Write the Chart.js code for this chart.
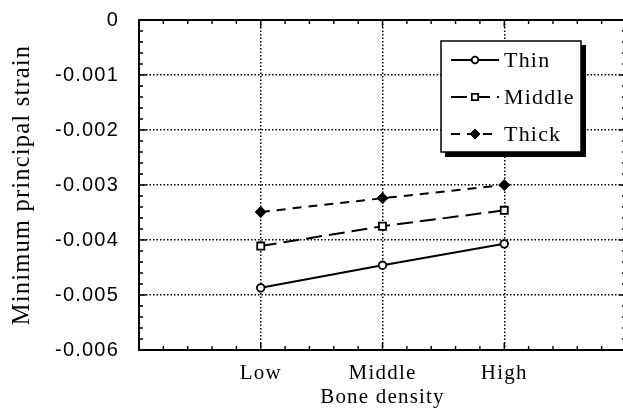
<!DOCTYPE html>
<html><head><meta charset="utf-8">
<script src="https://cdn.jsdelivr.net/npm/chart.js@4/dist/chart.umd.min.js"></script>
<style>
html,body{margin:0;padding:0;background:#fff;overflow:hidden;width:623px;height:410px}
#wrap{position:absolute;left:0;top:0;width:640px;height:410px}
</style>
</head><body><div id="wrap"><canvas id="c" width="640" height="410"></canvas></div>
<script>
// ---- data ----
const categories = ['Low', 'Middle', 'High'];
const seriesNames = ['Thin', 'Middle', 'Thick'];
const thinValues = [-0.00487, -0.00446, -0.00407];
const middleValues = [-0.00411, -0.00375, -0.00346];
const thickValues = [-0.00349, -0.00324, -0.00300];
const yTickLabels = ['0', '-0.001', '-0.002', '-0.003', '-0.004', '-0.005', '-0.006'];
const xAxisTitle = 'Bone density';
const yAxisTitle = 'Minimum principal strain';

const toPoints = vals => vals.map((v, i) => ({x: i + 1, y: v}));
const SERIF = 'Liberation Serif';
const SANS = 'Liberation Sans';

const datasets = [
  {label: seriesNames[0], data: toPoints(thinValues), borderColor: '#000', borderWidth: 2,
   pointStyle: 'circle', pointRadius: 3.8, pointBackgroundColor: '#fff', pointBorderColor: '#000', pointBorderWidth: 1.8, borderDash: []},
  {label: seriesNames[1], data: toPoints(middleValues), borderColor: '#000', borderWidth: 2,
   pointStyle: 'rect', pointRadius: 5, pointBackgroundColor: '#fff', pointBorderColor: '#000', pointBorderWidth: 1.8, borderDash: [16, 7]},
  {label: seriesNames[2], data: toPoints(thickValues), borderColor: '#000', borderWidth: 2,
   pointStyle: 'rectRot', pointRadius: 5.5, pointBackgroundColor: '#000', pointBorderColor: '#000', pointBorderWidth: 1, borderDash: [9, 7]}
];

const spacingPlugin = {
  id: 'spacing',
  beforeUpdate(chart) { chart.ctx.letterSpacing = '1.2px'; },
  beforeDraw(chart) { chart.ctx.letterSpacing = '1.2px'; }
};

const framePlugin = {
  id: 'frame',
  afterDatasetsDraw(chart) {
    const ctx = chart.ctx, a = chart.chartArea, xs = chart.scales.x, ys = chart.scales.y;
    ctx.save();
    ctx.strokeStyle = '#000';
    ctx.lineWidth = 1.4;
    ctx.setLineDash([]);
    ctx.beginPath();
    for (let k = 0; k <= 20; k++) {
      const px = xs.getPixelForValue(k * 0.2);
      const len = (k % 5 === 0) ? 7 : 4;
      ctx.moveTo(px, a.bottom); ctx.lineTo(px, a.bottom - len);
      ctx.moveTo(px, a.top); ctx.lineTo(px, a.top + len);
    }
    for (let k = 0; k <= 30; k++) {
      const py = ys.getPixelForValue(-k * 0.0002);
      const len = (k % 5 === 0) ? 7 : 4;
      ctx.moveTo(a.left, py); ctx.lineTo(a.left + len, py);
      ctx.moveTo(a.right, py); ctx.lineTo(a.right - len, py);
    }
    ctx.stroke();
    ctx.lineWidth = 2;
    ctx.strokeRect(a.left, a.top, a.right - a.left, a.bottom - a.top);
    ctx.restore();
  },
  afterDraw(chart) {
    const ctx = chart.ctx;
    const bx = 441, by = 41, bw = 140, bh = 111;
    ctx.save();
    ctx.setLineDash([]);
    ctx.fillStyle = '#000';
    ctx.fillRect(bx + 4, by + 4, bw + 1, bh + 1);
    ctx.fillStyle = '#fff';
    ctx.fillRect(bx, by, bw, bh);
    ctx.strokeStyle = '#000';
    ctx.lineWidth = 1.5;
    ctx.strokeRect(bx, by, bw, bh);
    ctx.font = '22px "' + SERIF + '"';
    ctx.letterSpacing = '1.2px';
    ctx.textBaseline = 'middle';
    ctx.textAlign = 'left';
    chart.data.datasets.forEach((ds, i) => {
      const y = by + 19 + i * 37;
      ctx.save();
      ctx.strokeStyle = '#000';
      ctx.lineWidth = 2;
      ctx.setLineDash(ds.borderDash || []);
      ctx.beginPath(); ctx.moveTo(bx + 10, y); ctx.lineTo(bx + 58, y); ctx.stroke();
      ctx.setLineDash([]);
      ctx.fillStyle = ds.pointBackgroundColor;
      ctx.strokeStyle = ds.pointBorderColor;
      ctx.lineWidth = ds.pointBorderWidth;
      Chart.helpers.drawPoint(ctx, {pointStyle: ds.pointStyle, radius: ds.pointRadius - 0.5, rotation: 0, borderWidth: ds.pointBorderWidth}, bx + 34, y);
      ctx.restore();
      ctx.fillStyle = '#000';
      ctx.fillText(ds.label, bx + 63, y + 1);
    });
    ctx.restore();
  }
};

const gridColor = (lo, hi) => c => (c.tick && c.tick.value > lo + 1e-9 && c.tick.value < hi - 1e-9) ? '#000' : 'rgba(0,0,0,0)';

new Chart(document.getElementById('c'), {
  type: 'line',
  data: {datasets},
  plugins: [spacingPlugin, framePlugin],
  options: {
    responsive: false,
    animation: false,
    devicePixelRatio: 1,
    layout: {autoPadding: false, padding: {top: 20, right: 14, left: 0, bottom: 0}},
    plugins: {legend: {display: false}, tooltip: {enabled: false}},
    scales: {
      x: {
        type: 'linear', position: 'bottom', min: 0, max: 4,
        afterFit: s => { s.height = 60; s.paddingLeft = 0; s.paddingRight = 0; },
        ticks: {stepSize: 1, autoSkip: false, maxRotation: 0, padding: 11, color: '#000',
          font: {family: SERIF, size: 21},
          callback: v => { const i = Math.round(v) - 1; return (i >= 0 && i < categories.length) ? categories[i] : ''; }},
        grid: {color: gridColor(0, 4), lineWidth: 1.5, drawTicks: false},
        border: {display: false, dash: [1.5, 2]},
        title: {display: true, text: xAxisTitle, color: '#000', font: {family: SERIF, size: 21}, padding: {top: 0, bottom: 0}}
      },
      y: {
        type: 'linear', position: 'left', min: -0.006, max: 0,
        afterFit: s => { s.width = 139; s.paddingTop = 0; s.paddingBottom = 0; },
        ticks: {stepSize: 0.001, padding: 20, color: '#000', font: {family: SANS, size: 20},
          callback: v => yTickLabels[Math.round(-v * 1000)] ?? ''},
        grid: {color: gridColor(-0.006, 0), lineWidth: 1.5, drawTicks: false},
        border: {display: false, dash: [1.5, 2]},
        title: {display: true, text: yAxisTitle, color: '#000', font: {family: SERIF, size: 24.5}, padding: {top: 8, bottom: 0}}
      }
    }
  }
});
</script>
</body></html>
